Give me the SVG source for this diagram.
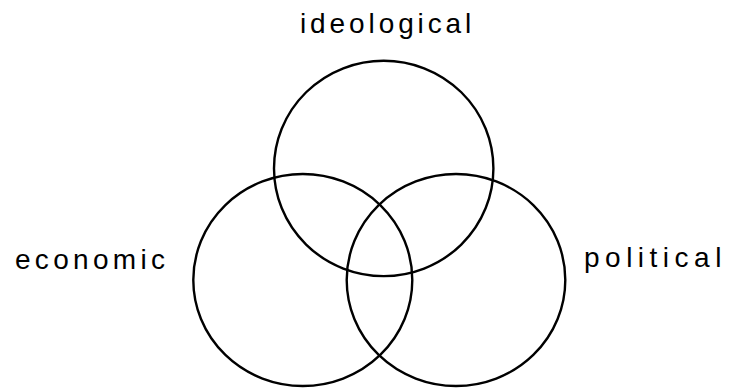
<svg xmlns="http://www.w3.org/2000/svg" width="731" height="389" viewBox="0 0 731 389">
<style>
.c{fill:none;stroke:#000;stroke-width:2.4}
.t{font-family:"Liberation Sans",Arial,sans-serif;font-size:28px;fill:#000}
</style>
<rect width="731" height="389" fill="#fff"/>
<g id="ideological">
<ellipse class="c" cx="383.7" cy="168.4" rx="109.7" ry="107.7"/>
<text class="t" x="300" y="33" letter-spacing="3.9">ideological</text>
</g>
<g id="economic">
<ellipse class="c" cx="302.8" cy="280" rx="109.5" ry="106"/>
<text class="t" x="15" y="269" letter-spacing="4.3">economic</text>
</g>
<g id="political">
<ellipse class="c" cx="456" cy="280" rx="109.3" ry="106"/>
<text class="t" x="584" y="267" letter-spacing="5.5">political</text>
</g>
<g id="connectors"></g>
</svg>
